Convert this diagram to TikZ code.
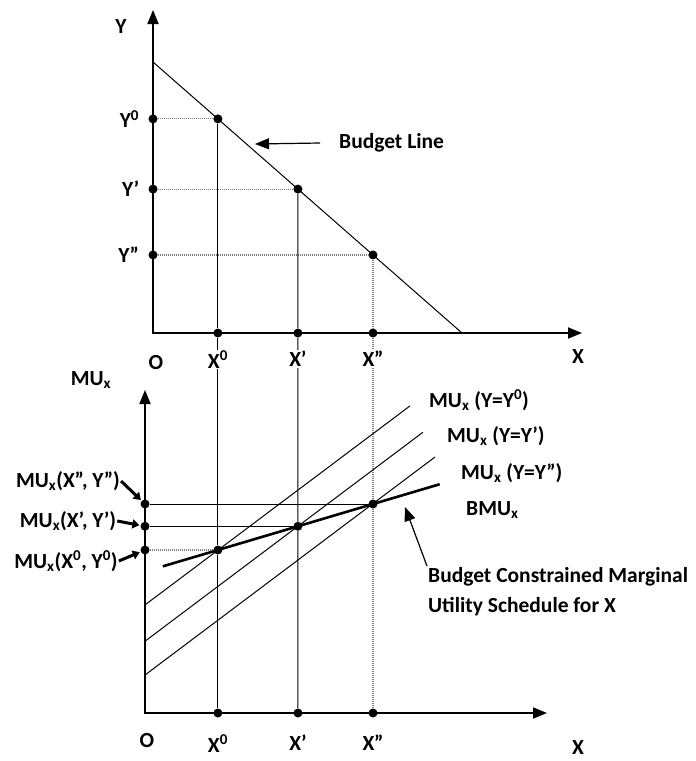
\documentclass[tikz,border=0pt]{standalone}
\usepackage{fontspec}
\setmainfont{Carlito}
\usetikzlibrary{arrows.meta,positioning,calc}

\tikzset{
  dot/.style={circle, fill=black, inner sep=0pt, minimum size=9pt},
  lab/.style={font=\fontsize{21.5}{24}\selectfont\bfseries, inner sep=1pt},
  axis/.style={line width=1.8pt, {Triangle[length=14pt,width=11pt]}-{Triangle[length=14pt,width=11pt]}},
  guide/.style={line width=1pt},
  dotguide/.style={line width=1.1pt, gray, dash pattern=on 1.2pt off 0.8pt},
  ptr/.style={line width=1.2pt, -{Triangle[length=14pt,width=11pt]}},
  fatptr/.style={line width=3pt, -{Triangle[length=7pt,width=9pt]}, shorten >=1pt},
  bmu/.style={line width=2.6pt}
}

\begin{document}
\begin{tikzpicture}[x=1pt, y=-1pt]
    \useasboundingbox (0,0) rectangle (696,761);

    % Budget line panel
    \coordinate (o1) at (153,333);
    \coordinate (bl0) at (153,62);
    \coordinate (bl1) at (462,333);
    \draw[axis] (153,10) -- (o1) -- (582,333);
    \draw[guide] (bl0) -- (bl1);

    \node[dot] (b0) at ($(bl0)!0.21!(bl1)$) {};
    \node[dot] (b1) at ($(bl0)!0.469!(bl1)$) {};
    \node[dot] (b2) at ($(bl0)!0.712!(bl1)$) {};
    \foreach \i in {0,1,2} {
        \node[dot] (y\i) at (b\i -| o1) {};
        \node[dot] (x\i) at (b\i |- o1) {};
        \draw[dotguide] (y\i) -- (b\i);
    }

    % Marginal utility panel
    \coordinate (o2) at (145,713);
    \draw[axis] (145,390) -- (o2) -- (547,713);
    \node[dot] (e0) at (b0 |- 0,550) {};
    \node[dot] (e2) at (b2 |- 0,504) {};
    \node[dot] (e1) at ($(e0)!0.516!(e2)$) {};
    \foreach \i in {0,1,2} {
        \node[dot] (m\i) at (o2 |- e\i) {};
        \node[dot] (u\i) at (e\i |- o2) {};
    }

    % Drop lines
    \draw[guide] (b0) -- (x0) -- (e0) -- (u0);
    \draw[guide] (b1) -- (x1) -- (e1) -- (u1);
    \draw[dotguide] (b2) -- (x2) -- (e2) -- (u2);
    \draw[guide] (m2) -- (e2);
    \draw[guide] (m1) -- (e1);
    \draw[dotguide] (m0) -- (e0);

    % MU schedules and BMU
    \draw[guide] ($(e0)+(-73,55)$) -- ($(e0)+(192,-144)$);
    \draw[guide] ($(e1)+(-153,115)$) -- ($(e1)+(125,-94)$);
    \draw[guide] ($(e2)+(-228,171)$) -- ($(e2)+(62,-47)$);
    \draw[bmu] ($(e0)!-0.355!(e2)$) -- ($(e0)!1.43!(e2)$);

    % Axis labels, top
    \node[lab] (ylab) at (121,27) {Y};
    \node[lab, left=8pt of y0] (y0lab) {Y\textsuperscript{0}};
    \node[lab, left=8pt of y1] (y1lab) {Y’};
    \node[lab, left=8pt of y2] (y2lab) {Y”};
    \node[lab] (o1lab) at (156,363) {O};
    \node[lab, fill=white, below=12pt of x0] (x0lab) {X\textsuperscript{0}};
    \node[lab, fill=white, below=12pt of x1] (x1lab) {X’};
    \node[lab, fill=white, below=12pt of x2] (x2lab) {X”};
    \node[lab] (xlab) at (578,357) {X};

    % Axis labels, bottom
    \node[lab] (mulab) at (91,380) {MU\textsubscript{x}};
    \node[lab] (o2lab) at (147,741) {O};
    \node[lab, below=16pt of u0] (u0lab) {X\textsuperscript{0}};
    \node[lab, below=16pt of u1] (u1lab) {X’};
    \node[lab, below=16pt of u2] (u2lab) {X”};
    \node[lab] (x2lab2) at (578,748) {X};

    % Values on the MU axis
    \node[lab] (l2) at (68,481) {MU\textsubscript{x}(X”, Y”)};
    \node[lab] (l1) at (68,521) {MU\textsubscript{x}(X’, Y’)};
    \node[lab] (l0) at (66,561) {MU\textsubscript{x}(X\textsuperscript{0}, Y\textsuperscript{0})};
    \draw[fatptr] (l2.east) -- (m2);
    \draw[fatptr] (l1.east) -- (m1);
    \draw[fatptr] (l0.east) -- (m0);

    % Schedule labels
    \node[lab, anchor=west] (mu0lab) at (428,400) {MU\textsubscript{x} (Y=Y\textsuperscript{0})};
    \node[lab, anchor=west] (mu1lab) at (446,436) {MU\textsubscript{x} (Y=Y’)};
    \node[lab, anchor=west] (mu2lab) at (460,473) {MU\textsubscript{x} (Y=Y”)};
    \node[lab, anchor=west] (bmulab) at (465,510) {BMU\textsubscript{x}};

    % Callouts
    \node[lab, anchor=west] (bllab) at (338,143) {Budget Line};
    \coordinate (bltip) at (255,144);
    \draw[ptr] ([xshift=-18pt]bllab.west) -- (bltip);

    \node[lab, anchor=north west, align=left, font=\fontsize{21.5}{30}\selectfont\bfseries] (bclab) at (427,566) {Budget Constrained Marginal\\Utility Schedule for X};
    \coordinate (bctip) at (405,507);
    \draw[ptr] (bclab.north west) -- (bctip);
\end{tikzpicture}
\end{document}
